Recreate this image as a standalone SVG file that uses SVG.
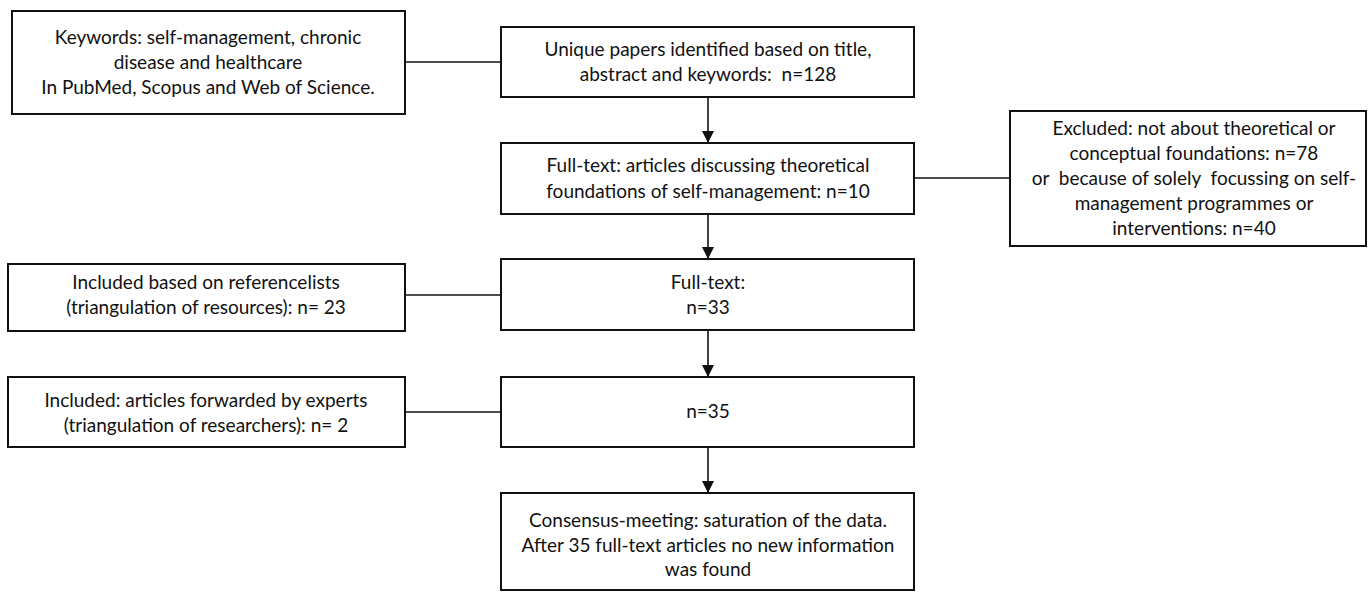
<svg xmlns="http://www.w3.org/2000/svg" width="1368" height="592" viewBox="0 0 1368 592">
<defs>
<style>
.box{fill:#fff;stroke:#111;stroke-width:2}
.t{font-family:Lato,"Open Sans","Liberation Sans",sans-serif;font-size:19px;fill:#111;text-anchor:middle}
.c{stroke:#111;stroke-width:1.6;fill:none}
</style>
<marker id="ah" markerWidth="12" markerHeight="12" refX="12" refY="6" orient="auto" markerUnits="userSpaceOnUse">
<path d="M0,0 L12,6 L0,12 Z" fill="#111"/>
</marker>
</defs>
<rect width="1368" height="592" fill="#fff"/>
<g id="connectors">
<line class="c" x1="405" y1="62" x2="501" y2="62"/>
<line class="c" x1="914" y1="178" x2="1010" y2="178"/>
<line class="c" x1="405" y1="295" x2="501" y2="295"/>
<line class="c" x1="405" y1="412" x2="501" y2="412"/>
<line class="c" x1="708" y1="97" x2="708" y2="143" marker-end="url(#ah)"/>
<line class="c" x1="708" y1="214" x2="708" y2="259" marker-end="url(#ah)"/>
<line class="c" x1="708" y1="330" x2="708" y2="377" marker-end="url(#ah)"/>
<line class="c" x1="708" y1="447" x2="708" y2="493" marker-end="url(#ah)"/>
</g>
<g id="keywords">
<rect class="box" x="12" y="11" width="393" height="103"/>
<text class="t" x="208" y="44">Keywords: self-management, chronic</text>
<text class="t" x="208" y="69">disease and healthcare</text>
<text class="t" x="208" y="94">In PubMed, Scopus and Web of Science.</text>
</g>
<g id="unique">
<rect class="box" x="501" y="27" width="413" height="70"/>
<text class="t" x="708" y="56">Unique papers identified based on title,</text>
<text class="t" x="708" y="81" xml:space="preserve">abstract and keywords:  n=128</text>
</g>
<g id="fulltext1">
<rect class="box" x="501" y="143" width="413" height="71"/>
<text class="t" x="708" y="172">Full-text: articles discussing theoretical</text>
<text class="t" x="708" y="198">foundations of self-management: n=10</text>
</g>
<g id="excluded">
<rect class="box" x="1010" y="111" width="356" height="135"/>
<text class="t" x="1194" y="135">Excluded: not about theoretical or</text>
<text class="t" x="1194" y="160">conceptual foundations: n=78</text>
<text class="t" x="1194" y="185" xml:space="preserve">or  because of solely  focussing on self-</text>
<text class="t" x="1194" y="210">management programmes or</text>
<text class="t" x="1194" y="235">interventions: n=40</text>
</g>
<g id="referencelists">
<rect class="box" x="8" y="264" width="397" height="67"/>
<text class="t" x="206" y="289">Included based on referencelists</text>
<text class="t" x="206" y="314">(triangulation of resources): n= 23</text>
</g>
<g id="fulltext2">
<rect class="box" x="501" y="259" width="413" height="71"/>
<text class="t" x="708" y="289">Full-text:</text>
<text class="t" x="708" y="314">n=33</text>
</g>
<g id="experts">
<rect class="box" x="8" y="377" width="397" height="70"/>
<text class="t" x="206" y="407">Included: articles forwarded by experts</text>
<text class="t" x="206" y="432">(triangulation of researchers): n= 2</text>
</g>
<g id="n35">
<rect class="box" x="501" y="377" width="413" height="70"/>
<text class="t" x="708" y="418">n=35</text>
</g>
<g id="consensus">
<rect class="box" x="501" y="493" width="413" height="97"/>
<text class="t" x="708" y="527">Consensus-meeting: saturation of the data.</text>
<text class="t" x="708" y="552">After 35 full-text articles no new information</text>
<text class="t" x="708" y="576">was found</text>
</g>
</svg>
